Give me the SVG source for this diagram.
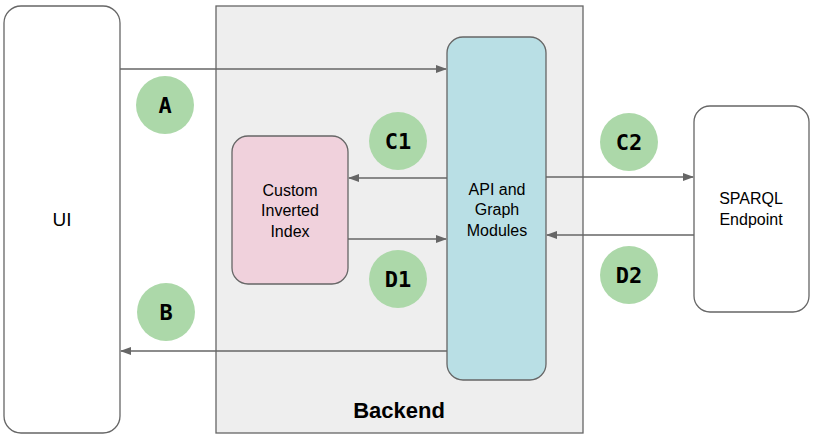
<svg xmlns="http://www.w3.org/2000/svg" width="813" height="437" viewBox="0 0 813 437">
<style>
.box{stroke:#666;stroke-width:1.3}
.lbl{font-family:"Liberation Sans",Arial,sans-serif;font-size:16px;fill:#000;text-anchor:middle}
.circ{fill:#acd8a9}
.ctxt{font-family:"DejaVu Sans Mono","Liberation Mono",monospace;font-weight:bold;font-size:22px;fill:#000;text-anchor:middle}
.conn{stroke:#666;stroke-width:1.3;fill:none;marker-end:url(#ah)}
</style>
<defs>
<marker id="ah" markerWidth="12" markerHeight="10" refX="10" refY="4" orient="auto" markerUnits="userSpaceOnUse">
<path d="M0,0 L11,4 L0,8 Z" fill="#666"/>
</marker>
</defs>
<rect width="813" height="437" fill="#fff"/>
<g id="backend">
<rect class="box" x="216" y="6" width="367" height="427" fill="#eeeeee"/>
<text x="399" y="418" font-family="Liberation Sans,Arial,sans-serif" font-weight="bold" font-size="22" text-anchor="middle">Backend</text>
</g>
<g id="ui">
<rect class="box" x="4" y="6" width="116" height="427" rx="17" fill="#fff"/>
<text class="lbl" x="62" y="226" style="font-size:19px">UI</text>
</g>
<g id="index">
<rect class="box" x="232" y="136" width="116" height="148" rx="16" fill="#f0d1dc"/>
<text class="lbl" x="290" y="196">Custom</text>
<text class="lbl" x="290" y="216">Inverted</text>
<text class="lbl" x="290" y="237">Index</text>
</g>
<g id="api">
<rect class="box" x="447" y="37" width="99" height="343" rx="16" fill="#b9dfe5"/>
<text class="lbl" x="497" y="195">API and</text>
<text class="lbl" x="497" y="215">Graph</text>
<text class="lbl" x="497" y="236">Modules</text>
</g>
<g id="sparql">
<rect class="box" x="694" y="106" width="115" height="206" rx="16" fill="#fff"/>
<text class="lbl" x="751" y="204">SPARQL</text>
<text class="lbl" x="751" y="225">Endpoint</text>
</g>
<g id="connectors">
<line class="conn" x1="120" y1="69" x2="446" y2="69"/>
<line class="conn" x1="447" y1="178" x2="349" y2="178"/>
<line class="conn" x1="348" y1="239" x2="446" y2="239"/>
<line class="conn" x1="546" y1="177" x2="693" y2="177"/>
<line class="conn" x1="694" y1="235" x2="547" y2="235"/>
<line class="conn" x1="447" y1="351" x2="121" y2="351"/>
</g>
<g id="label-A"><circle class="circ" cx="165" cy="105" r="29"/><text class="ctxt" x="165" y="113">A</text></g>
<g id="label-B"><circle class="circ" cx="166" cy="312" r="29"/><text class="ctxt" x="166" y="320">B</text></g>
<g id="label-C1"><circle class="circ" cx="398" cy="141" r="29"/><text class="ctxt" x="398" y="149">C1</text></g>
<g id="label-D1"><circle class="circ" cx="398" cy="279" r="29"/><text class="ctxt" x="398" y="287">D1</text></g>
<g id="label-C2"><circle class="circ" cx="629" cy="142" r="29"/><text class="ctxt" x="629" y="150">C2</text></g>
<g id="label-D2"><circle class="circ" cx="629" cy="275" r="29"/><text class="ctxt" x="629" y="283">D2</text></g>
</svg>
